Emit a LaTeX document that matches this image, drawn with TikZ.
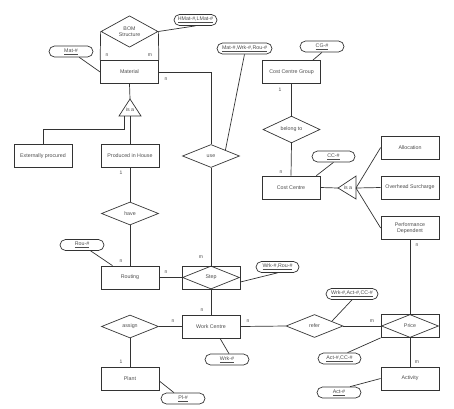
\documentclass[tikz,border=0pt]{standalone}
\usepackage{fontspec}
\setmainfont{Liberation Sans}
\usetikzlibrary{shapes.geometric,shapes.misc,calc}
\begin{document}
\begin{tikzpicture}[x=1pt,y=-1pt,
  every node/.style={font=\fontsize{5.3}{6.2}\selectfont, text=black!70, align=center},
  ln/.style={draw=black!80, line width=0.7pt},
  ent/.style={ln, rectangle, minimum width=58, minimum height=23, inner sep=0},
  rel/.style={ln, diamond, minimum width=57, minimum height=23, inner sep=0},
  attr/.style={ln, rounded rectangle, minimum height=11, inner sep=0},
  card/.style={font=\fontsize{5}{6}\selectfont, inner sep=0}]
\useasboundingbox (0,0) rectangle (454,408);
% entities
\node[ent] (mat) at (129.5,72) {Material};
\node[ent] (ext) at (43,156) {Externally procured};
\node[ent] (pih) at (130,156) {Produced in House};
\node[ent] (rout) at (130,277.5) {Routing};
\node[ent] (stp) at (211,277.5) {};
\node[ent] (wc) at (211,326.5) {Work Centre};
\node[ent] (plant) at (130,378.5) {Plant};
\node[ent] (ccg) at (291.5,72) {Cost Centre Group};
\node[ent] (cc) at (291,187.5) {Cost Centre};
\node[ent] (alloc) at (410,147.5) {Allocation};
\node[ent] (ovh) at (410,187.5) {Overhead Surcharge};
\node[ent] (pd) at (410,228) {Performance\\Dependent};
\node[ent] (price) at (410,326) {};
\node[ent] (act) at (410,378.5) {Activity};
% relationships
\node[rel] (bom) at (129.5,31.5) {BOM\\Structure};
\node[rel] (use) at (211,156) {use};
\node[rel] (have) at (130,213.5) {have};
\node[rel] (stpd) at (211,277.5) {Step};
\node[rel] (assign) at (130,326.5) {assign};
\node[rel] (refer) at (314.5,326) {refer};
\node[rel] (belong) at (291.5,129.5) {belong to};
\node[rel] (priced) at (410,326) {Price};
% attributes
\node[attr, minimum width=43] (hmat) at (195.5,20) {\underline{HMat-\#,LMat-\#}};
\node[attr, minimum width=44] (matid) at (71,51.5) {\underline{Mat-\#}};
\node[attr, minimum width=55] (mwr) at (244.5,48.5) {\underline{Mat-\#,Wrk-\#,Rou-\#}};
\node[attr, minimum width=44] (cgid) at (322,46.5) {\underline{CG-\#}};
\node[attr, minimum width=43] (ccid) at (333.5,156.5) {\underline{CC-\#}};
\node[attr, minimum width=44] (rouid) at (82,245) {\underline{Rou-\#}};
\node[attr, minimum width=43] (wrid) at (277.5,267) {\underline{Wrk-\#,Rou-\#}};
\node[attr, minimum width=52] (wacid) at (352,294) {\underline{Wrk-\#,Act-\#,CC-\#}};
\node[attr, minimum width=44] (wkid) at (227,359.5) {\underline{Wrk-\#}};
\node[attr, minimum width=43] (accid) at (339.5,358.5) {\underline{Act-\#,CC-\#}};
\node[attr, minimum width=44] (actid) at (339,392.5) {\underline{Act-\#}};
\node[attr, minimum width=44] (plid) at (183,398.5) {\underline{Pl-\#}};
% is-a triangles
\coordinate (t1a) at (130,99);
\coordinate (t1l) at (119,116);
\coordinate (t1r) at (141,116);
\coordinate (t1b) at (130,116);
\draw[ln] (t1a) -- (t1l) -- (t1r) -- cycle;
\node (isa1) at (130,110) {is a};
\coordinate (t2a) at (338,188);
\coordinate (t2u) at (356,176);
\coordinate (t2d) at (356,199);
\coordinate (t2b) at (356,188);
\draw[ln] (t2a) -- (t2u) -- (t2d) -- cycle;
\node (isa2) at (348,188) {is a};
\coordinate (ebend) at (124,116);
% connectors
\draw[ln] (bom.west) -- (mat.north west);
\draw[ln] (bom.east) -- (mat.north east);
\draw[ln] (bom.east) -- (hmat.south);
\draw[ln] (matid) -- (mat.west);
\draw[ln] (mat.south) -- (t1a);
\draw[ln] (t1b) -- (pih.north);
\draw[ln] (ebend) -- ++(0,13) -| (ext.north);
\draw[ln] (mat.east) -| (use.north);
\draw[ln] (mwr.south) -- ($(use.east)!0.5!(use.north)$);
\draw[ln] (use.south) -- (stp.north);
\draw[ln] (pih.south) -- (have.north);
\draw[ln] (have.south) -- (rout.north);
\draw[ln] (rouid) -- (rout);
\draw[ln] (rout.east) -- (stp.west);
\draw[ln] (wrid.south) -- ($(stp.east)+(0,4.5)$);
\draw[ln] (stp.south) -- (wc.north);
\draw[ln] (assign.east) -- (wc.west);
\draw[ln] (assign.south) -- (plant.north);
\draw[ln] ($(plant.east)+(0,2.5)$) -- ($(plid.north)+(-9,0)$);
\draw[ln] ($(wc.south)+(9,0)$) -- ($(wkid.north)+(2,0)$);
\draw[ln] (wc.east) -- (refer.west);
\draw[ln] (refer.east) -- (price.west);
\draw[ln] ($(refer.north)!0.6!(refer.east)$) -- (wacid.south);
\draw[ln] (price.north) -- (pd.south);
\draw[ln] (price.south west) -- ($(accid.north)+(8,0)$);
\draw[ln] (price.south) -- (act.north);
\draw[ln] (act.west) -- ($(actid.north)+(11,0)$);
\draw[ln] (ccg.south) -- (belong.north);
\draw[ln] (belong.south) -- (cc.north);
\draw[ln] (cgid.south) -- ($(ccg.north east)+(-8,0)$);
\draw[ln] (ccid.south) -- ($(cc.north east)+(-4,0)$);
\draw[ln] (cc.east) -- (t2a);
\draw[ln] (t2b) -- (alloc.west);
\draw[ln] (t2b) -- (ovh.west);
\draw[ln] (t2b) -- (pd.west);
% cardinalities
\node[card] (c1) at (107,55) {n};
\node[card] (c2) at (150,55) {m};
\node[card] (c3) at (166,79) {n};
\node[card] (c4) at (121,173) {1};
\node[card] (c5) at (201,257) {m};
\node[card] (c6) at (121,261) {n};
\node[card] (c7) at (166,272) {n};
\node[card] (c8) at (202,310) {n};
\node[card] (c9) at (173,321) {n};
\node[card] (c10) at (121,362) {1};
\node[card] (c11) at (248,321) {n};
\node[card] (c12) at (372,321) {m};
\node[card] (c13) at (417,362) {m};
\node[card] (c14) at (280,90) {1};
\node[card] (c15) at (281,172) {n};
\node[card] (c16) at (417,245) {n};
\end{tikzpicture}
\end{document}
